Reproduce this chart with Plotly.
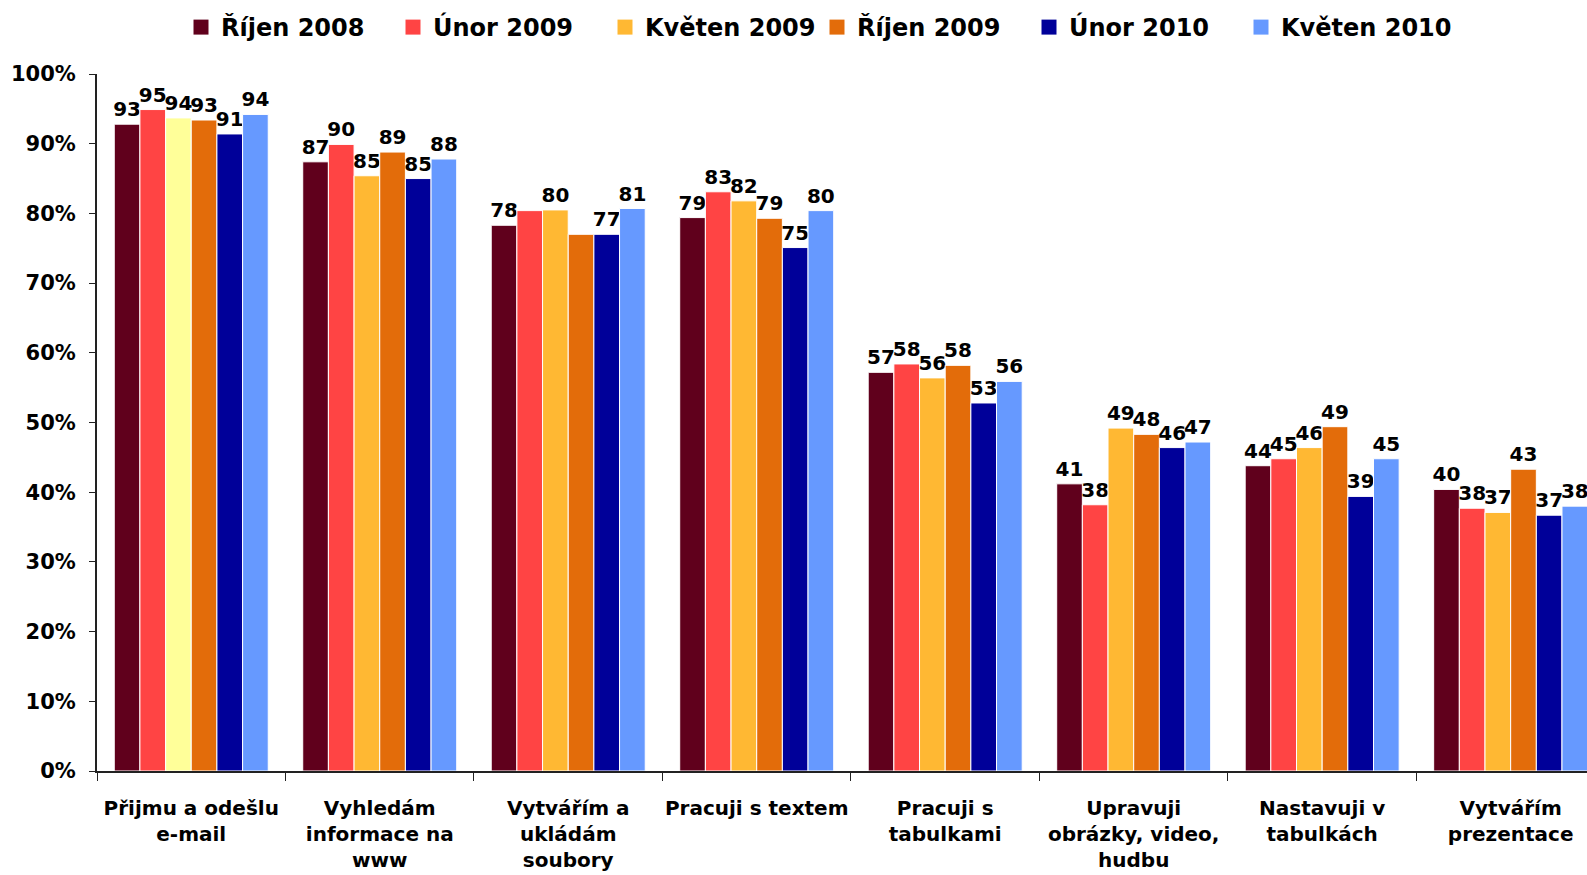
import plotly.graph_objects as go

categories = [
    "Přijmu a odešlu<br>e-mail",
    "Vyhledám<br>informace na<br>www",
    "Vytvářím a<br>ukládám<br>soubory",
    "Pracuji s textem",
    "Pracuji s<br>tabulkami",
    "Upravuji<br>obrázky, video,<br>hudbu",
    "Nastavuji v<br>tabulkách",
    "Vytvářím<br>prezentace",
]

series_names = ["Říjen 2008", "Únor 2009", "Květen 2009", "Říjen 2009", "Únor 2010", "Květen 2010"]

rijen_2008 = [92.8, 87.4, 78.3, 79.4, 57.2, 41.2, 43.8, 40.4]
unor_2009 = [94.9, 89.9, 80.4, 83.1, 58.4, 38.2, 44.8, 37.7]
kveten_2009 = [93.7, 85.4, 80.5, 81.8, 56.4, 49.2, 46.4, 37.1]
rijen_2009 = [93.4, 88.8, 77.0, 79.3, 58.2, 48.3, 49.4, 43.3]
unor_2010 = [91.4, 85.0, 77.0, 75.1, 52.8, 46.4, 39.4, 36.7]
kveten_2010 = [94.2, 87.8, 80.7, 80.4, 55.9, 47.2, 44.8, 38.0]

# data labels as printed on the chart (blank = not shown)
rijen_2008_lbl = ["93", "87", "78", "79", "57", "41", "44", "40"]
unor_2009_lbl = ["95", "90", "", "83", "58", "38", "45", "38"]
kveten_2009_lbl = ["94", "85", "80", "82", "56", "49", "46", "37"]
rijen_2009_lbl = ["93", "89", "", "79", "58", "48", "49", "43"]
unor_2010_lbl = ["91", "85", "77", "75", "53", "46", "39", "37"]
kveten_2010_lbl = ["94", "88", "81", "80", "56", "47", "45", "38"]

series_values = [rijen_2008, unor_2009, kveten_2009, rijen_2009, unor_2010, kveten_2010]
series_labels = [rijen_2008_lbl, unor_2009_lbl, kveten_2009_lbl, rijen_2009_lbl, unor_2010_lbl, kveten_2010_lbl]
series_colors = ["#60001C", "#FF4444", "#FFB833", "#E36C0A", "#000099", "#6699FF"]
highlight_color = "#FFFF99"  # first bar of Květen 2009 is drawn lighter

y_ticks = list(range(0, 101, 10))
y_tick_labels = [f"{v}%" for v in y_ticks]

FONT = "DejaVu Sans"
W, H = 1587, 875

fig = go.Figure()
for i, (name, vals, lbls, col) in enumerate(zip(series_names, series_values, series_labels, series_colors)):
    colors = [col] * len(vals)
    if name == "Květen 2009":
        colors[0] = highlight_color
    fig.add_trace(go.Bar(
        x=categories, y=vals, name=name,
        offsetgroup=str(i),
        marker=dict(color=colors, line=dict(color="white", width=1)),
        text=lbls, texttemplate="%{text}", textposition="outside",
        textfont=dict(family=FONT, size=20, color="black", weight="bold"),
        constraintext="none", cliponaxis=True,
        showlegend=False,
    ))

# legend entries (square swatches in each series' colour)
for name, col in zip(series_names, series_colors):
    fig.add_trace(go.Scatter(
        x=[None], y=[None], name=name, mode="markers",
        marker=dict(symbol="square", size=15, color=col),
        showlegend=True, hoverinfo="skip",
    ))

n_cat = len(categories)
fig.update_layout(
    width=W, height=H,
    paper_bgcolor="white", plot_bgcolor="white",
    font=dict(family=FONT, size=20, color="black", weight="bold"),
    barmode="group", bargap=0.183, bargroupgap=0,
    margin=dict(l=97, r=0, t=74, b=104, autoexpand=False),
    legend=dict(
        orientation="h", xref="container", yref="container",
        x=817 / W, xanchor="center", y=1 - 27.5 / H, yanchor="middle",
        font=dict(family=FONT, size=24, color="black", weight="bold"),
        entrywidth=167, entrywidthmode="pixels",
    ),
    xaxis=dict(
        range=[-0.5, n_cat - 0.5 - 0.095],
        showline=True, linecolor="#222222", linewidth=2,
        ticks="outside", tickson="boundaries", ticklen=8, tickwidth=1, tickcolor="#222222",
        ticklabelstandoff=18, automargin=False, tickangle=0,
        tickfont=dict(family=FONT, size=20, color="black", weight="bold"),
        showgrid=False, zeroline=False,
    ),
    yaxis=dict(
        range=[0, 100],
        tickvals=y_ticks, ticktext=y_tick_labels,
        showline=True, linecolor="#222222", linewidth=2,
        ticks="outside", ticklen=6, tickwidth=1, tickcolor="#222222",
        ticklabelstandoff=9, automargin=False,
        tickfont=dict(family=FONT, size=21, color="black", weight="bold"),
        showgrid=False, zeroline=False,
    ),
)

# place the figure flush with the window corner (no default body margin / scrollbars)
page_js = "document.body.style.margin='0';document.body.style.overflow='hidden';"

fig.write_html("out.html", post_script=page_js, config={"displayModeBar": False})
